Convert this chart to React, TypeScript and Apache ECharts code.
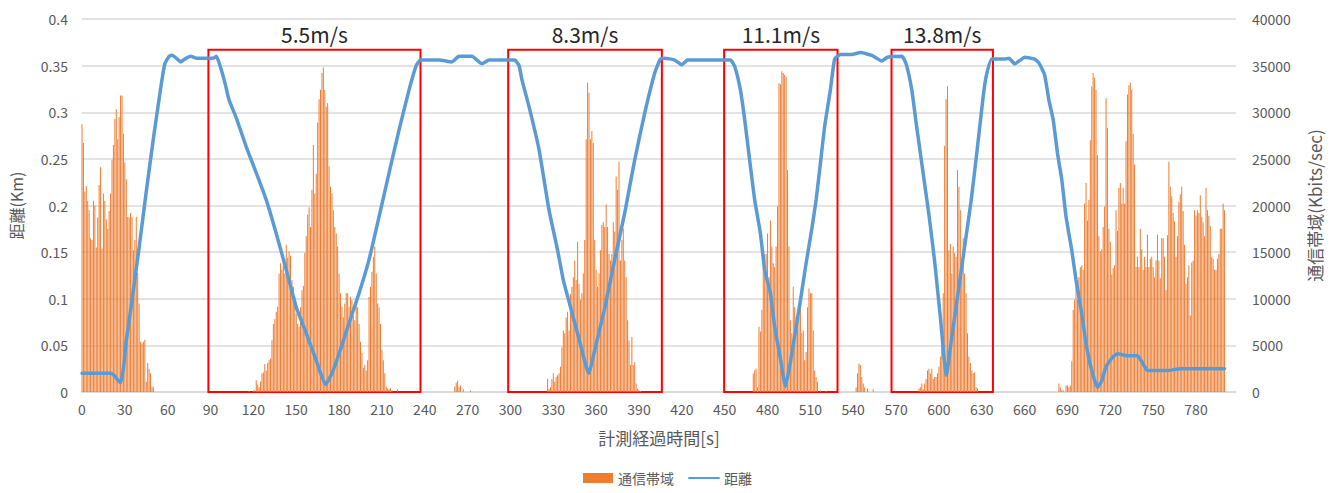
import React, { useEffect, useRef } from "react";
import * as echarts from "echarts";

// ---- Data ----
// Bandwidth (Kbits/sec) per second, given as bursts: start time [s] + one value per second
const bwBurst1Start = 0;
const bwBurst1 = [28700, 26700, 21500, 22100, 20500, 19500, 16500, 16300, 20500, 20000, 15500, 18700, 22200, 24100, 15400, 21300, 20500, 18500, 17500, 19400, 21300, 24900, 26500, 29300, 30300, 27100, 29500, 31800, 31800, 27700, 24600, 22800, 18800, 18700, 19200, 18800, 15200, 16300, 18800, 12800, 9500, 5400, 5200, 5400, 5600, 1100, 3100, 2500, 2000, 600, 500];

const bwBurst2Start = 117;
const bwBurst2 = [100, 0, 0, 150, 200, 1260, 800, 500, 1100, 1980, 2100, 3000, 2300, 3100, 3400, 3600, 5550, 7300, 7800, 8600, 9150, 12700, 13800, 13100, 14500, 12700, 15800, 14400, 15100, 14600, 12000, 11300, 10200, 8400, 7300, 7000, 9100, 10900, 11400, 14900, 16700, 19000, 19800, 17700, 21700, 26500, 21300, 23400, 28900, 31400, 32400, 34200, 34800, 32400, 30600, 31000, 24200, 22000, 21300, 19500, 17700, 17000, 15600, 12700, 10600, 9150, 8000, 9500, 10600, 10600, 9150, 10200, 9900, 8200, 7700, 9500, 9100, 7300, 5400, 4200, 2600, 2900, 2300, 3400, 10200, 11300, 12900, 14500, 15600, 12700, 9500, 9100, 7300, 4500, 3400, 2000, 550, 400, 300, 400, 200, 0, 0, 0, 300];

const bwBurst3Start = 261;
const bwBurst3 = [600, 1000, 1200, 500, 700, 0, 300, 0, 0, 0, 0, 150];

const bwBurst4Start = 326;
const bwBurst4 = [1430, 330, 500, 1400, 2000, 1100, 1600, 1800, 2000, 2700, 4800, 6600, 6300, 8000, 8600, 6600, 10500, 11300, 12300, 14100, 12000, 16100, 11600, 9900, 10600, 12700, 16300, 27100, 33200, 32100, 27100, 28000, 26700, 16300, 13100, 11300, 12700, 15200, 17900, 18200, 17700, 20100, 17700, 14800, 14100, 14800, 18200, 17200, 23100, 21700, 24700, 14100, 16300, 17500, 14100, 12300, 7700, 5500, 2900, 5900, 2900, 3200, 900, 350, 200, 100];

const bwBurst5Start = 470;
const bwBurst5 = [1980, 2330, 2500, 520, 7000, 6500, 8800, 13400, 14800, 14800, 17000, 12300, 18400, 15600, 13800, 13400, 15600, 19900, 33100, 33000, 34400, 34200, 34000, 33800, 23800, 15600, 7700, 6300, 11300, 9100, 8100, 7300, 8100, 9100, 6300, 6600, 3400, 4300, 9100, 11100, 10600, 10600, 6600, 2300, 1600, 1100, 0, 200, 0, 0, 0, 100];

const bwBurst6Start = 542;
const bwBurst6 = [520, 1980, 3050, 2900, 1600, 900, 520, 0, 350, 0, 0, 0, 300];

const bwBurst7Start = 586;
const bwBurst7 = [380, 520, 900, 300, 900, 1400, 2300, 2500, 1980, 2500, 1400, 1600, 1600, 2000, 2700, 3800, 5500, 10600, 26400, 31400, 32800, 15200, 15900, 12700, 15600, 14900, 14500, 23800, 22000, 19500, 12700, 16500, 12700, 10600, 6300, 3800, 3100, 2300, 2000, 2100, 520, 400];

const bwBurst8Start = 684;
const bwBurst8 = [900, 520, 150, 200, 0, 700, 700, 500, 700, 3300, 8800, 9900, 12000, 9900, 12300, 13400, 13600, 13100, 20200, 22400, 18400, 20600, 27000, 32800, 34200, 33700, 32400, 25400, 16700, 15100, 15300, 17700, 19900, 31500, 28300, 17500, 16100, 12600, 13300, 13600, 19500, 17300, 21900, 22400, 20200, 21900, 20200, 26900, 31900, 32900, 33200, 32400, 27700, 24400, 13400, 14500, 13400, 17500, 15300, 13100, 14500, 13400, 16900, 13400, 14300, 14500, 13400, 12300, 14100, 16900, 14100, 12200, 16500, 16500, 14500, 10900, 16800, 24700, 22000, 21000, 19200, 18300, 14500, 16700, 20400, 21200, 22000, 19400, 15800, 11600, 12300, 13600, 8200, 13900, 14100, 19500, 18900, 19500, 19200, 21100, 18800, 18200, 16700, 21900, 19500, 18900, 17800, 14500, 14300, 13100, 13100, 14300, 14800, 17500, 17500, 20200, 19500];

// Distance (km) read at time points [s]
const distTimes = [0, 10, 20, 23, 25, 27, 29, 31, 35, 40, 45, 50, 55, 58, 61, 63, 66, 69, 72, 76, 80, 92, 94, 96, 100, 103, 108, 115, 122, 129, 136, 143, 150, 157, 164, 170.5, 175, 180, 187, 194, 201, 208, 215, 222, 229, 234, 237, 250, 259, 264, 273, 280, 285, 303, 306, 308, 313, 320, 327, 333, 337, 341, 348, 354.8, 359, 366, 373, 380, 387, 394, 401, 405, 408, 415, 420, 424, 454, 457, 461, 464, 468, 471, 475, 478, 482, 485, 489, 492.5, 496, 499, 503, 507, 511, 514, 517, 520, 524, 527, 531, 539, 545, 553, 560, 564, 574, 577, 581, 584, 588, 593, 597, 601, 605.2, 609, 613, 618, 622.6, 627, 631, 633, 637, 646, 649, 653, 658, 660, 667, 670, 674, 677, 680, 683, 686, 689, 693, 696, 700, 703, 707, 711, 714, 717, 722, 725, 732, 739, 743, 746, 760, 769, 783, 800];
const distValues = [0.020, 0.020, 0.020, 0.017, 0.013, 0.010, 0.025, 0.055, 0.098, 0.155, 0.215, 0.272, 0.325, 0.352, 0.360, 0.361, 0.358, 0.354, 0.357, 0.360, 0.358, 0.358, 0.360, 0.353, 0.332, 0.313, 0.294, 0.263, 0.235, 0.206, 0.170, 0.131, 0.091, 0.063, 0.034, 0.008, 0.020, 0.041, 0.074, 0.106, 0.142, 0.188, 0.235, 0.281, 0.324, 0.350, 0.356, 0.356, 0.354, 0.360, 0.360, 0.352, 0.356, 0.356, 0.350, 0.335, 0.306, 0.260, 0.195, 0.152, 0.120, 0.097, 0.057, 0.020, 0.045, 0.090, 0.142, 0.192, 0.249, 0.299, 0.342, 0.357, 0.358, 0.356, 0.351, 0.356, 0.356, 0.349, 0.324, 0.292, 0.242, 0.206, 0.170, 0.131, 0.106, 0.070, 0.036, 0.006, 0.032, 0.060, 0.098, 0.138, 0.175, 0.206, 0.245, 0.285, 0.324, 0.357, 0.362, 0.362, 0.364, 0.361, 0.355, 0.359, 0.360, 0.352, 0.324, 0.289, 0.245, 0.190, 0.140, 0.080, 0.018, 0.059, 0.102, 0.156, 0.206, 0.263, 0.317, 0.338, 0.357, 0.357, 0.358, 0.352, 0.357, 0.359, 0.357, 0.353, 0.340, 0.313, 0.292, 0.256, 0.228, 0.188, 0.152, 0.120, 0.084, 0.052, 0.023, 0.005, 0.012, 0.027, 0.038, 0.041, 0.039, 0.039, 0.030, 0.023, 0.023, 0.025, 0.025, 0.025];

// Speed test windows (time range [s]) and labels
const windowLabels = ["5.5m/s", "8.3m/s", "11.1m/s", "13.8m/s"];
const windowStarts = [88.5, 298.4, 449.6, 566.8];
const windowEnds = [237, 406, 529, 637.8];
const windowTop = 0.367;

const xMax = 808;

export default function App() {
  const ref = useRef<HTMLDivElement>(null);

  useEffect(() => {
    document.body.style.margin = "0";
    if (!ref.current) return;
    const chart = echarts.init(ref.current, undefined, { renderer: "svg" });

    const bursts: [number, number[]][] = [
      [bwBurst1Start, bwBurst1],
      [bwBurst2Start, bwBurst2],
      [bwBurst3Start, bwBurst3],
      [bwBurst4Start, bwBurst4],
      [bwBurst5Start, bwBurst5],
      [bwBurst6Start, bwBurst6],
      [bwBurst7Start, bwBurst7],
      [bwBurst8Start, bwBurst8],
    ];
    const barData: number[][] = [];
    bursts.forEach(([s, vals]) => {
      vals.forEach((v, i) => {
        if (v > 0) barData.push([s + i, v]);
      });
    });
    const lineData = distTimes.map((t, i) => [t, distValues[i]]);

    const markAreaData = windowLabels.map((lab, i) => [
      { name: lab, xAxis: windowStarts[i], yAxis: windowTop },
      { xAxis: windowEnds[i], yAxis: 0 },
    ]);

    const font = '"Noto Sans CJK JP", "Noto Sans", sans-serif';
    const gray = "#595959";

    chart.setOption({
      animation: false,
      textStyle: { fontFamily: font },
      grid: { left: 79, right: 99, top: 19, bottom: 101 },
      legend: {
        bottom: 3,
        left: "center",
        itemWidth: 30,
        itemHeight: 10,
        itemGap: 14,
        textStyle: { color: gray, fontSize: 14, fontFamily: font },
        data: [
          { name: "通信帯域", icon: "rect" },
          { name: "距離", itemStyle: { opacity: 0 } },
        ],
      },
      xAxis: {
        type: "value",
        min: 0,
        max: xMax,
        interval: 30,
        name: "計測経過時間[s]",
        nameLocation: "middle",
        nameGap: 37,
        nameTextStyle: { color: gray, fontSize: 17, fontFamily: font },
        axisLine: { show: true, lineStyle: { color: "#D9D9D9", width: 1.5 } },
        axisTick: { show: false },
        splitLine: { show: false },
        axisLabel: { color: gray, fontSize: 14, margin: 10, showMaxLabel: false, fontFamily: font },
      },
      yAxis: [
        {
          type: "value",
          min: 0,
          max: 0.4,
          interval: 0.05,
          name: "距離(Km)",
          nameLocation: "middle",
          nameGap: 58,
          nameTextStyle: { color: gray, fontSize: 16, fontFamily: font },
          axisLine: { show: false },
          axisTick: { show: false },
          splitLine: { show: true, lineStyle: { color: "#D9D9D9", width: 1.5 } },
          axisLabel: { color: gray, fontSize: 14, margin: 14, fontFamily: font },
        },
        {
          type: "value",
          min: 0,
          max: 40000,
          interval: 5000,
          name: "通信帯域(Kbits/sec)",
          nameLocation: "middle",
          nameGap: 70,
          nameRotate: 90,
          nameTextStyle: { color: gray, fontSize: 17, fontFamily: font },
          axisLine: { show: false },
          axisTick: { show: false },
          splitLine: { show: false },
          axisLabel: {
            color: gray,
            fontSize: 14,
            margin: 16,
            fontFamily: font,
            formatter: (v: number) => String(v),
          },
        },
      ],
      series: [
        {
          name: "通信帯域",
          type: "bar",
          yAxisIndex: 1,
          data: barData,
          barWidth: 1,
          itemStyle: { color: "#ED7D31" },
          z: 2,
        },
        {
          name: "距離",
          type: "line",
          yAxisIndex: 0,
          data: lineData,
          symbol: "none",
          smooth: 0.15,
          lineStyle: { color: "#5B9BD5", width: 3.5, cap: "round", join: "round" },
          itemStyle: { color: "#5B9BD5" },
          z: 4,
          markArea: {
            silent: true,
            itemStyle: {
              color: "rgba(0,0,0,0)",
              borderColor: "#FF0000",
              borderWidth: 2,
            },
            label: {
              show: true,
              position: "top",
              distance: 4,
              color: "#262626",
              fontSize: 21,
              fontFamily: font,
            },
            data: markAreaData,
          },
        },
      ],
    });

    return () => chart.dispose();
  }, []);

  return <div ref={ref} style={{ width: 1335, height: 493 }} />;
}
